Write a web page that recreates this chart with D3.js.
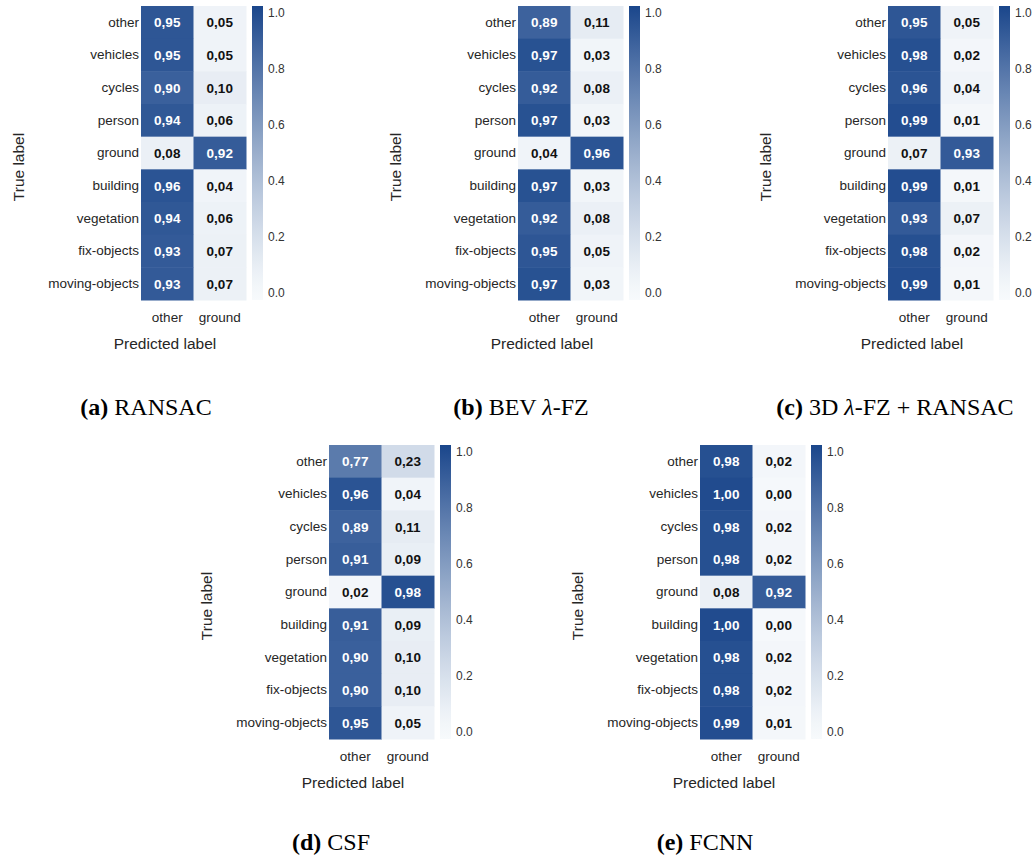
<!DOCTYPE html>
<html>
<head>
<meta charset="utf-8">
<script src="https://cdn.jsdelivr.net/npm/d3@7"></script>
<style>
  body { margin: 0; background: #fff; }
  svg { display: block; }
</style>
</head>
<body>
<svg id="fig" width="1033" height="860"></svg>
<script>
// class labels
var trueLabels = ["other", "vehicles", "cycles", "person", "ground", "building", "vegetation", "fix-objects", "moving-objects"];
var predLabels = ["other", "ground"];

// normalised confusion matrices, one column per predicted label
var ransacOther = [0.95, 0.95, 0.90, 0.94, 0.08, 0.96, 0.94, 0.93, 0.93];
var ransacGround = [0.05, 0.05, 0.10, 0.06, 0.92, 0.04, 0.06, 0.07, 0.07];
var bevOther = [0.89, 0.97, 0.92, 0.97, 0.04, 0.97, 0.92, 0.95, 0.97];
var bevGround = [0.11, 0.03, 0.08, 0.03, 0.96, 0.03, 0.08, 0.05, 0.03];
var fz3dOther = [0.95, 0.98, 0.96, 0.99, 0.07, 0.99, 0.93, 0.98, 0.99];
var fz3dGround = [0.05, 0.02, 0.04, 0.01, 0.93, 0.01, 0.07, 0.02, 0.01];
var csfOther = [0.77, 0.96, 0.89, 0.91, 0.02, 0.91, 0.90, 0.90, 0.95];
var csfGround = [0.23, 0.04, 0.11, 0.09, 0.98, 0.09, 0.10, 0.10, 0.05];
var fcnnOther = [0.98, 1.00, 0.98, 0.98, 0.08, 1.00, 0.98, 0.98, 0.99];
var fcnnGround = [0.02, 0.00, 0.02, 0.02, 0.92, 0.00, 0.02, 0.02, 0.01];

var cbTicks = [0.0, 0.2, 0.4, 0.6, 0.8, 1.0];

var svg = d3.select("#fig");

// colour map, white -> dark blue (light end kept a bit flatter)
var cLow = -0.025, cHigh = 1.025;
var ramp = d3.interpolateRgb("#f7fafc", "#1a468b");
var color = d3.scaleSequential()
    .domain([cLow, cHigh])
    .interpolator(function(t) { return ramp(Math.pow(t, 1.25)); });

// gradient for the colour bars
var grad = svg.append("defs").append("linearGradient")
    .attr("id", "cbgrad")
    .attr("x1", 0).attr("y1", 1).attr("x2", 0).attr("y2", 0);
d3.range(0, 1.0001, 0.05).forEach(function(t) {
    grad.append("stop")
	.attr("offset", t)
	.attr("stop-color", color(cLow + t * (cHigh - cLow)));
});

var hmW = 105, hmH = 294;
var sans = "'Liberation Sans', Arial, sans-serif";

function drawPanel(left, top, otherVals, groundVals) {
    var g = svg.append("g")
	.attr("transform", "translate(" + left + "," + top + ")");

    var x = d3.scaleBand().domain(predLabels).range([0, hmW]);
    var y = d3.scaleBand().domain(trueLabels).range([0, hmH]);

    var cells = [];
    trueLabels.forEach(function(t, i) {
	cells.push({ t: t, p: "other", v: otherVals[i] });
	cells.push({ t: t, p: "ground", v: groundVals[i] });
    });

    g.selectAll("rect.cell")
	.data(cells)
	.enter().append("rect")
	.attr("class", "cell")
	.attr("x", function(d) { return x(d.p); })
	.attr("y", function(d) { return y(d.t); })
	.attr("width", x.bandwidth() + 0.5)
	.attr("height", y.bandwidth() + 0.5)
	.attr("fill", function(d) { return color(d.v); });

    g.selectAll("text.annot")
	.data(cells)
	.enter().append("text")
	.attr("class", "annot")
	.attr("x", function(d) { return x(d.p) + x.bandwidth() / 2; })
	.attr("y", function(d) { return y(d.t) + y.bandwidth() / 2; })
	.attr("dy", "0.36em")
	.attr("text-anchor", "middle")
	.attr("font-family", sans)
	.attr("font-weight", "bold")
	.attr("font-size", "13.5px")
	.attr("fill", function(d) { return d.v > 0.5 ? "#ffffff" : "#111111"; })
	.text(function(d) { return d.v.toFixed(2).replace(".", ","); });

    // row labels
    var yAxis = g.append("g")
	.attr("transform", "translate(-2,0)")
	.call(d3.axisLeft(y).tickSize(0).tickPadding(0));
    yAxis.select(".domain").remove();
    yAxis.selectAll("text")
	.attr("font-family", sans)
	.attr("font-size", "13.5px")
	.attr("fill", "#262626");

    // column labels
    var xAxis = g.append("g")
	.attr("transform", "translate(0," + hmH + ")")
	.call(d3.axisBottom(x).tickSize(0).tickPadding(12));
    xAxis.select(".domain").remove();
    xAxis.selectAll("text")
	.attr("font-family", sans)
	.attr("font-size", "13.5px")
	.attr("fill", "#262626");

    g.append("text")
	.attr("x", 24)
	.attr("y", 343)
	.attr("text-anchor", "middle")
	.attr("font-family", sans)
	.attr("font-size", "15.5px")
	.attr("fill", "#262626")
	.text("Predicted label");

    g.append("text")
	.attr("transform", "translate(-117,161) rotate(-90)")
	.attr("text-anchor", "middle")
	.attr("font-family", sans)
	.attr("font-size", "15.5px")
	.attr("fill", "#262626")
	.text("True label");

    // colour bar
    var cb = g.append("g").attr("transform", "translate(111,0)");
    cb.append("rect")
	.attr("width", 11)
	.attr("height", hmH)
	.attr("fill", "url(#cbgrad)");
    var cbScale = d3.scaleLinear().domain([cLow, cHigh]).range([hmH, 0]);
    var cbAxis = cb.append("g")
	.attr("transform", "translate(11,0)")
	.call(d3.axisRight(cbScale).tickValues(cbTicks).tickSize(0).tickPadding(5)
	      .tickFormat(d3.format(".1f")));
    cbAxis.select(".domain").remove();
    cbAxis.selectAll("text")
	.attr("font-family", sans)
	.attr("font-size", "12px")
	.attr("fill", "#333333");
}

drawPanel(141, 6, ransacOther, ransacGround);
drawPanel(518, 6, bevOther, bevGround);
drawPanel(888, 6, fz3dOther, fz3dGround);
drawPanel(329, 445, csfOther, csfGround);
drawPanel(700, 445, fcnnOther, fcnnGround);

// sub-figure captions
var captions = [
    { x: 146, y: 415, tag: "(a)", parts: [["RANSAC", false]] },
    { x: 521, y: 415, tag: "(b)", parts: [["BEV ", false], ["\u03bb", true], ["-FZ", false]] },
    { x: 895, y: 415, tag: "(c)", parts: [["3D ", false], ["\u03bb", true], ["-FZ + RANSAC", false]] },
    { x: 331, y: 850, tag: "(d)", parts: [["CSF", false]] },
    { x: 705, y: 850, tag: "(e)", parts: [["FCNN", false]] }
];

captions.forEach(function(c) {
    var t = svg.append("text")
	.attr("x", c.x)
	.attr("y", c.y)
	.attr("text-anchor", "middle")
	.attr("font-family", "'Liberation Serif', 'Times New Roman', serif")
	.attr("font-size", "24px")
	.attr("fill", "#000");
    t.append("tspan").attr("font-weight", "bold").text(c.tag + " ");
    c.parts.forEach(function(p) {
	t.append("tspan")
	    .attr("font-style", p[1] ? "italic" : "normal")
	    .text(p[0]);
    });
});
</script>
</body>
</html>
